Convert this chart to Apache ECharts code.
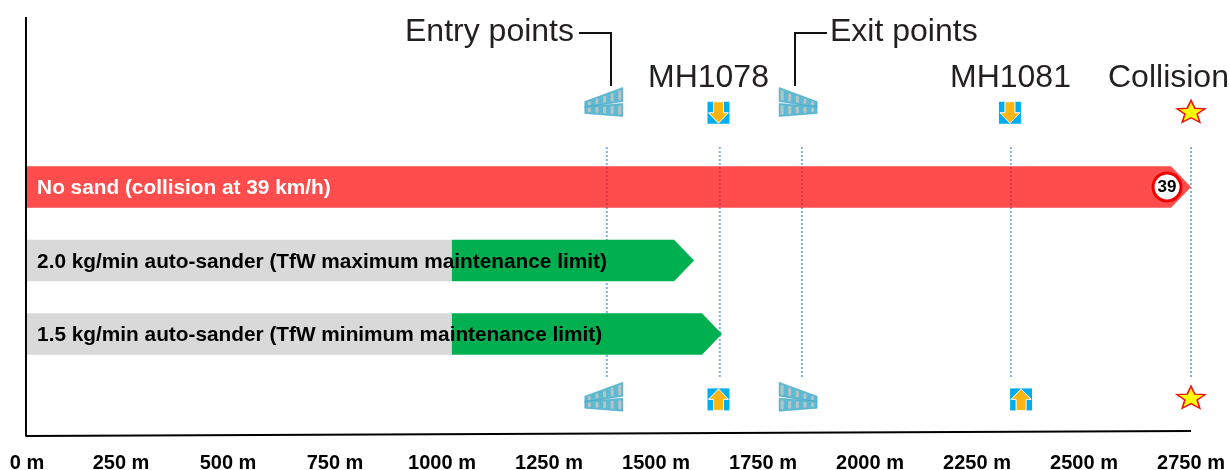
<!DOCTYPE html>
<html>
<head>
<meta charset="utf-8">
<style>
html, body { margin: 0; padding: 0; background: #fff; }
#chart { width: 1229px; height: 470px; }
</style>
<script src="https://cdn.jsdelivr.net/npm/echarts@6/dist/echarts.min.js"></script>
</head>
<body>
<div id="chart"></div>
<script>
// distance along the track in metres, rows counted from the red bar (row 1)
var tickValues = [0, 250, 500, 750, 1000, 1250, 1500, 1750, 2000, 2250, 2500, 2750];
var rowNames = ['No sand (collision at 39 km/h)',
    '2.0 kg/min auto-sander (TfW maximum maintenance limit)',
    '1.5 kg/min auto-sander (TfW minimum maintenance limit)'];
var rowNumbers = [1, 2, 3];
var barStart = 30;
var greenStart = 1023;
var barEnds = [2750, 1589, 1654];
var stopLines = [1385, 1649, 1841, 2329, 2750];
var topRow = -0.03;
var bottomRow = 3.86;
var topArrowRow = -0.01;
var bottomArrowRow = 3.89;
var entryTrack = 1378;
var exitTrack = 1832;
var topArrows = [1646, 2327];
var bottomArrows = [1646, 2353];
var collisionStar = 2750;
var speedBadge = [2694, 39];

var PX_ARROW_HEAD = 20;
var PX_BAR_HALF = 20.75;

var myChart = echarts.init(document.getElementById('chart'));

function renderBar(params, api) {
    var a = api.coord([api.value(0), api.value(2)]);
    var b = api.coord([api.value(1), api.value(2)]);
    var head = api.value(3) ? PX_ARROW_HEAD : 0;
    return {
        type: 'polygon',
        shape: {points: [
            [a[0], a[1] - PX_BAR_HALF],
            [b[0] - head, a[1] - PX_BAR_HALF],
            [b[0], a[1]],
            [b[0] - head, a[1] + PX_BAR_HALF],
            [a[0], a[1] + PX_BAR_HALF]
        ]},
        style: {fill: api.value(4) === 0 ? 'rgba(255,0,0,0.7)' : api.value(4) === 1 ? '#d9d9d9' : '#00b050'}
    };
}

function renderArrowIcon(params, api) {
    var c = api.coord([api.value(0), api.value(1)]);
    var d = api.value(2); // 1 points down, -1 points up
    return {
        type: 'group',
        x: c[0],
        y: c[1],
        children: [
            {type: 'rect', shape: {x: -11, y: -11, width: 22, height: 22}, style: {fill: '#00aeef'}},
            {type: 'polygon', shape: {points: [
                [-5, -11 * d], [5, -11 * d], [5, 0], [10, 0], [0, 10.5 * d], [-10, 0], [-5, 0]
            ]}, style: {fill: '#ffb511', stroke: '#fff', lineWidth: 1}}
        ]
    };
}

function renderTrack(params, api) {
    var c = api.coord([api.value(0), api.value(1)]);
    var flip = api.value(2); // 1 entry (wide end on the right), -1 exit
    var rails = [
        [[-19, -1], [19, -15], [19, -1], [-19, 5]],
        [[-19, 4], [19, 1], [19, 14], [-19, 11]]
    ];
    var children = [];
    rails.forEach(function (r) {
        children.push({
            type: 'polygon',
            shape: {points: r.map(function (p) { return [p[0] * flip, p[1]]; })},
            style: {fill: '#5dbad3', stroke: '#3f9fbd', lineWidth: 0.5}
        });
        for (var i = 0; i < 5; i++) {
            var t = (i + 0.6) / 5;
            var top = r[0][1] + (r[1][1] - r[0][1]) * t;
            var bot = r[3][1] + (r[2][1] - r[3][1]) * t;
            var x = (-19 + 38 * t) * flip;
            children.push({
                type: 'rect',
                shape: {x: x - 1.5, y: top + 1.5, width: 3, height: Math.max(bot - top - 3, 2), r: 1.5},
                style: {fill: '#b9c3c6'}
            });
        }
    });
    return {type: 'group', x: c[0], y: c[1], children: children};
}

var barData = [
    [barStart, barEnds[0], rowNumbers[0], 1, 0],
    [barStart, greenStart, rowNumbers[1], 0, 1],
    [greenStart, barEnds[1], rowNumbers[1], 1, 2],
    [barStart, greenStart, rowNumbers[2], 0, 1],
    [greenStart, barEnds[2], rowNumbers[2], 1, 2]
];

var series = [];
stopLines.forEach(function (x) {
    series.push({
        type: 'line', silent: true, symbol: 'none', z: 1,
        lineStyle: {color: '#7fb2de', width: 2, type: [2, 2]},
        data: [[x, 0.456], [x, 3.585]]
    });
});
series.push({
    type: 'custom', z: 2, silent: true, clip: false,
    renderItem: renderBar,
    encode: {x: [0, 1], y: 2},
    data: barData
});
series.push({
    type: 'scatter', z: 5, silent: true, symbolSize: 0,
    itemStyle: {opacity: 1},
    label: {
        show: true, position: 'right', distance: 0, offset: [0, 1.5],
        formatter: function (p) { return rowNames[p.dataIndex]; },
        fontFamily: 'Liberation Sans', fontWeight: 'bold', fontSize: 20.8
    },
    data: rowNumbers.map(function (r, i) {
        return {
            value: [54, r],
            label: {color: i === 0 ? '#fff' : '#000'}
        };
    })
});
series.push({
    type: 'custom', z: 4, silent: true, clip: false,
    renderItem: renderArrowIcon,
    data: topArrows.map(function (x) { return [x, topArrowRow, 1]; })
        .concat(bottomArrows.map(function (x) { return [x, bottomArrowRow, -1]; }))
});
series.push({
    type: 'custom', z: 4, silent: true, clip: false,
    renderItem: renderTrack,
    data: [[entryTrack, topRow - 0.12, 1], [exitTrack, topRow - 0.12, -1],
        [entryTrack, bottomRow, 1], [exitTrack, bottomRow, -1]]
});
series.push({
    type: 'scatter', z: 4, silent: true,
    symbol: 'path://M50 0L63 33L98 35L71 57L80 91L50 72L20 91L29 57L2 35L37 33Z',
    symbolSize: [28, 22],
    itemStyle: {color: '#ffff00', borderColor: '#f01010', borderWidth: 1.5, opacity: 1},
    data: [[collisionStar, topRow], [collisionStar, bottomRow]]
});
series.push({
    type: 'scatter', z: 6, silent: true, symbol: 'circle', symbolSize: 28,
    itemStyle: {color: '#fff', borderColor: '#ee0000', borderWidth: 3, opacity: 1},
    label: {show: true, position: 'inside', formatter: String(speedBadge[1]),
        fontFamily: 'Liberation Sans', fontWeight: 'bold', fontSize: 17, color: '#000'},
    data: [[speedBadge[0], rowNumbers[0]]]
});
// axis lines, the bottom one leans up slightly in the original
series.push({
    type: 'line', silent: true, symbol: 'none', z: 3,
    lineStyle: {color: '#000', width: 2},
    data: [[28, -1.313], [28, 4.388], [2750, 4.32]]
});

var annotationFont = '32px "Liberation Sans"';
function noteAt(text, x, y) {
    return {type: 'text', x: x, y: y, silent: true, style: {text: text, font: annotationFont, fill: '#231f20'}};
}

var option = {
    backgroundColor: '#fff',
    animation: false,
    grid: {left: 14, right: 38, top: 17, bottom: 34, outerBoundsMode: 'none'},
    xAxis: {
        type: 'value', min: 0, max: 2750, interval: 250,
        axisLine: {show: false}, axisTick: {show: false}, splitLine: {show: false},
        axisLabel: {
            margin: 17,
            showMinLabel: true, showMaxLabel: true, hideOverlap: false,
            color: '#000', fontFamily: 'Liberation Sans', fontWeight: 'bold', fontSize: 20,
            formatter: function (v) {
                // the 0 m label sits under the start of the axis line
                return v === 0 ? '{first|0 m}' : v + ' m';
            },
            rich: {first: {padding: [0, 0, 0, 26], color: '#000', fontFamily: 'Liberation Sans', fontWeight: 'bold', fontSize: 20}}
        }
    },
    yAxis: {
        type: 'value', min: -1.313, max: 4.388, inverse: true, show: false
    },
    graphic: [
        noteAt('Entry points', 405, 16),
        noteAt('Exit points', 830, 16),
        noteAt('MH1078', 648, 62),
        noteAt('MH1081', 950, 62),
        noteAt('Collision', 1108, 62),
        {type: 'polyline', silent: true, shape: {points: [[579, 33], [611, 33], [611, 86]]}, style: {stroke: '#111', lineWidth: 2, fill: null}},
        {type: 'polyline', silent: true, shape: {points: [[827, 33], [795, 33], [795, 86]]}, style: {stroke: '#111', lineWidth: 2, fill: null}}
    ],
    series: series
};
myChart.setOption(option);
</script>
</body>
</html>
